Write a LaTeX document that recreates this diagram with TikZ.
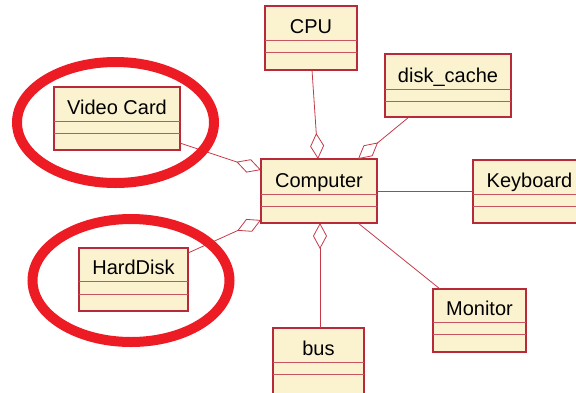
\documentclass[tikz,border=0pt]{standalone}
\usepackage{fontspec}
\setmainfont{Liberation Sans}
\usetikzlibrary{arrows.meta,calc}
\definecolor{boxfill}{HTML}{FBF3D0}
\definecolor{boxline}{HTML}{B8293A}
\definecolor{conline}{HTML}{C63A48}
\definecolor{ringred}{HTML}{ED1C24}
\tikzset{
  clsbox/.style={draw=boxline, fill=boxfill, line width=1.3pt, rectangle, inner sep=0pt, outer sep=0pt},
  clsdiv/.style={draw=boxline!80, line width=1pt},
  clstext/.style={font=\fontsize{20}{24}\selectfont, anchor=base, inner sep=0pt},
  conn/.style={draw=conline, line width=0.8pt},
  agg/.style={conn, -{Diamond[open, fill=white, length=26pt, width=14pt, line width=0.8pt]}},
  ring/.style={draw=ringred, line width=10pt}
}
\newcommand{\umlcls}[8]{%
  \node[clsbox, minimum width=#4pt, minimum height=#5pt, anchor=north west] (#1) at (#2,#3) {};
  \draw[clsdiv] ([yshift=-#6pt]#1.north west) -- ([yshift=-#6pt]#1.north east);
  \draw[clsdiv] ([yshift=-#7pt]#1.north west) -- ([yshift=-#7pt]#1.north east);
  \node[clstext] (#1-label) at ([yshift=-#6pt+7pt]#1.north) {#8};
}
\begin{document}
\begin{tikzpicture}[x=1pt,y=-1pt]
\useasboundingbox (0,0) rectangle (576,392);
\clip (0,0) rectangle (576,392);
\umlcls{cpu}{265}{6}{92}{64}{34}{46}{CPU}
\umlcls{cache}{385}{54}{126}{63}{35}{47}{disk\_cache}
\umlcls{computer}{261}{159}{116}{64}{35}{47}{Computer}
\umlcls{keyboard}{473}{160}{113}{63}{34}{46}{Keyboard}
\umlcls{video}{54}{87}{126}{63}{34}{46}{Video Card}
\umlcls{disk}{79}{248}{109}{63}{33}{46}{HardDisk}
\umlcls{bus}{273}{328}{91}{66}{34}{46}{bus}
\umlcls{monitor}{433}{289}{93}{63}{33}{45}{Monitor}
% connectors
\draw[agg] ([xshift=1pt]cpu.south) -- ([xshift=-1pt]computer.north);
\draw[agg] ([xshift=24pt]cache.south west) -- ([xshift=-19pt]computer.north east);
\draw[conn] (computer.east) -- (computer.east -| keyboard.west);
\draw[agg] ([yshift=7pt]video.south east) -- ([yshift=-11pt]computer.north west);
\draw[agg] ([yshift=-5pt]disk.north east) -- ([yshift=3pt]computer.south west);
\draw[agg] ([xshift=1pt]computer.south |- bus.north) -- ([xshift=1pt]computer.south);
\draw[conn] ([xshift=-19pt]computer.south east) -- ([xshift=7pt]monitor.north west);
% red rings
\draw[ring] (115.5,122.5) ellipse [x radius=98.5pt, y radius=60.5pt];
\draw[ring] (131,280.5) ellipse [x radius=98.5pt, y radius=61.5pt];
\end{tikzpicture}
\end{document}
